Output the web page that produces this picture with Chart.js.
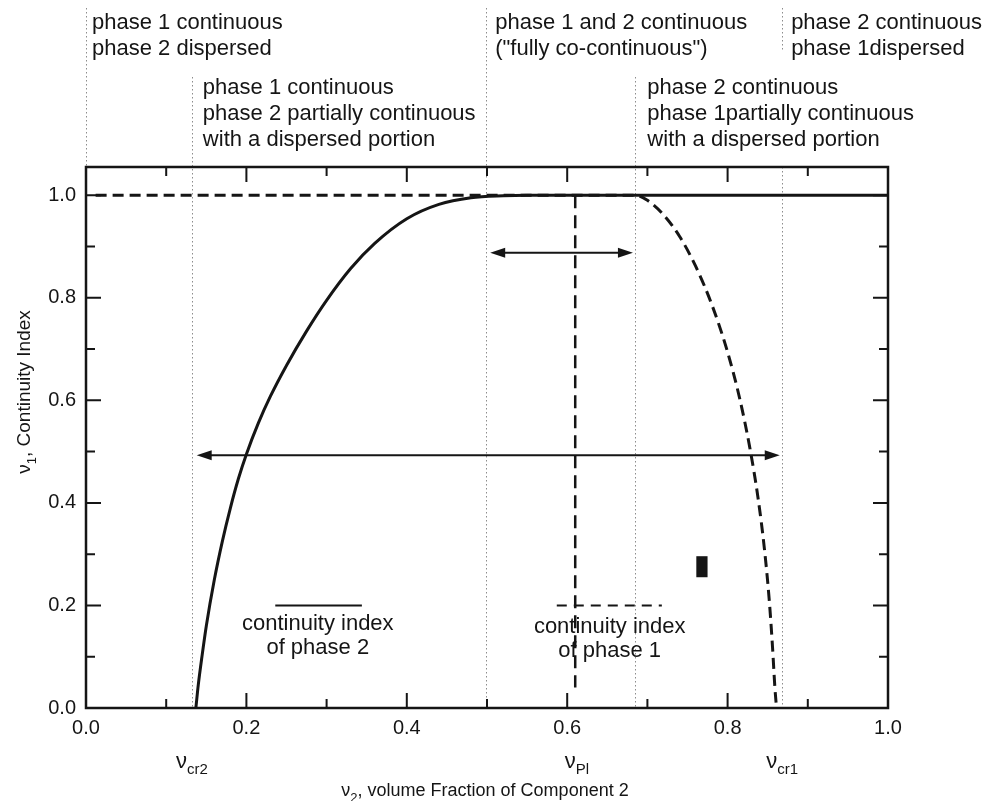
<!DOCTYPE html>
<html>
<head>
<meta charset="utf-8">
<script src="https://cdn.jsdelivr.net/npm/chart.js@4.4.1/dist/chart.umd.min.js"></script>
<style>
  html, body { margin: 0; padding: 0; background: #fff; }
</style>
</head>
<body>
<canvas id="continuity-chart" width="985" height="801"></canvas>
<script>
// axis limits
const xMin = 0, xMax = 1.0, xStep = 0.1;
const yMin = 0, yMax = 1.055, yStep = 0.1;

// continuity index of phase 2 (solid)
const phase2X = [0.137, 0.140, 0.145, 0.150, 0.160, 0.170, 0.180, 0.190, 0.200, 0.215, 0.230, 0.250, 0.275, 0.300, 0.330, 0.360, 0.400, 0.440, 0.480, 0.520, 0.550, 1.000];
const phase2Y = [0.000, 0.045, 0.105, 0.160, 0.250, 0.325, 0.390, 0.447, 0.495, 0.556, 0.608, 0.668, 0.735, 0.795, 0.857, 0.906, 0.954, 0.982, 0.995, 0.999, 1.000, 1.000];

// continuity index of phase 1 (dashed)
const phase1X = [0.012, 0.685, 0.700, 0.720, 0.740, 0.760, 0.780, 0.800, 0.815, 0.828, 0.838, 0.846, 0.852, 0.856, 0.859, 0.861];
const phase1Y = [1.000, 1.000, 0.990, 0.962, 0.920, 0.862, 0.788, 0.694, 0.604, 0.505, 0.409, 0.309, 0.209, 0.119, 0.039, 0.000];

// phase inversion composition (dashed vertical)
const plX = [0.610, 0.610];
const plY = [1.000, 0.040];

// region boundaries (dotted verticals)
const boundX = [0.0, 0.132, 0.499, 0.685, 0.868];

// double arrows
const arrowY = [0.888, 0.493];
const arrowFrom = [0.504, 0.138];
const arrowTo = [0.682, 0.865];

// legend samples
const legendY = 0.2;
const legendSolidX = [0.236, 0.344];
const legendDashX = [0.587, 0.718];

// small black marker
const markX = [0.761, 0.775];
const markY = [0.255, 0.296];

// region descriptions (anchored to a boundary index)
const regionText = [
  { at: 0, dx: 6, top: 23, lines: ['phase 1 continuous', 'phase 2 dispersed'] },
  { at: 1, dx: 11, top: 88, lines: ['phase 1 continuous', 'phase 2 partially continuous', 'with a dispersed portion'] },
  { at: 2, dx: 9, top: 23, lines: ['phase 1 and 2 continuous', '("fully co-continuous")'] },
  { at: 3, dx: 12, top: 88, lines: ['phase 2 continuous', 'phase 1partially continuous', 'with a dispersed portion'] },
  { at: 4, dx: 9, top: 23, lines: ['phase 2 continuous', 'phase 1dispersed'] }
];

const legendText = [
  { x: 0.289, dy: 18, lines: ['continuity index', 'of phase 2'] },
  { x: 0.653, dy: 21, lines: ['continuity index', 'of phase 1'] }
];

const criticalLabels = [
  { x: 0.132, sub: 'cr2' },
  { x: 0.612, sub: 'Pl' },
  { x: 0.868, sub: 'cr1' }
];

const FONT = '"Liberation Sans", Arial, Helvetica, sans-serif';
const INK = '#151515';

function pts(xs, ys) {
  return xs.map((x, i) => ({ x: x, y: ys[i] }));
}

// draws text pieces, some of them as subscripts
function drawParts(ctx, parts, x, y, align, size, subSize) {
  let w = 0;
  parts.forEach(p => {
    ctx.font = (p.sub ? subSize : size) + 'px ' + FONT;
    w += ctx.measureText(p.t).width;
  });
  let cx = align === 'center' ? x - w / 2 : x;
  ctx.textAlign = 'left';
  ctx.textBaseline = 'alphabetic';
  parts.forEach(p => {
    ctx.font = (p.sub ? subSize : size) + 'px ' + FONT;
    ctx.fillText(p.t, cx, p.sub ? y + 6 : y);
    cx += ctx.measureText(p.t).width;
  });
}

function arrowHead(ctx, fromX, toX, py) {
  const dir = toX > fromX ? 1 : -1;
  ctx.beginPath();
  ctx.moveTo(toX, py);
  ctx.lineTo(toX - dir * 15, py - 5);
  ctx.lineTo(toX - dir * 15, py + 5);
  ctx.closePath();
  ctx.fill();
}

const annotate = {
  id: 'annotate',
  beforeDatasetsDraw(chart) {
    const { ctx, chartArea: a, scales: { x } } = chart;
    ctx.save();
    ctx.strokeStyle = '#8c8c8c';
    ctx.lineWidth = 1;
    ctx.setLineDash([1.5, 2.5]);
    // vertical spans of each boundary line
    const spans = [
      [[8, a.top]],
      [[77, a.bottom]],
      [[8, a.bottom]],
      [[77, a.bottom]],
      [[8, 50], [a.top, a.bottom]]
    ];
    boundX.forEach((v, i) => {
      const px = Math.round(x.getPixelForValue(v)) + 0.5;
      spans[i].forEach(s => {
        ctx.beginPath();
        ctx.moveTo(px, s[0]);
        ctx.lineTo(px, s[1]);
        ctx.stroke();
      });
    });
    ctx.restore();
  },
  afterDatasetsDraw(chart) {
    const { ctx, chartArea: a, scales: { x, y } } = chart;
    ctx.save();
    ctx.fillStyle = INK;
    ctx.strokeStyle = INK;

    // frame with inward ticks on all sides
    ctx.lineWidth = 2.5;
    ctx.strokeRect(a.left, a.top, a.right - a.left, a.bottom - a.top);
    ctx.lineWidth = 2;
    x.ticks.forEach(t => {
      const len = Math.round(t.value * 10) % 2 === 0 ? 15 : 9;
      const px = x.getPixelForValue(t.value);
      ctx.beginPath();
      ctx.moveTo(px, a.bottom); ctx.lineTo(px, a.bottom - len);
      ctx.moveTo(px, a.top); ctx.lineTo(px, a.top + len);
      ctx.stroke();
    });
    y.ticks.forEach(t => {
      const len = Math.round(t.value * 10) % 2 === 0 ? 15 : 9;
      const py = y.getPixelForValue(t.value);
      ctx.beginPath();
      ctx.moveTo(a.left, py); ctx.lineTo(a.left + len, py);
      ctx.moveTo(a.right, py); ctx.lineTo(a.right - len, py);
      ctx.stroke();
    });

    // double arrows
    ctx.lineWidth = 2;
    arrowY.forEach((v, i) => {
      const py = y.getPixelForValue(v);
      const x1 = x.getPixelForValue(arrowFrom[i]);
      const x2 = x.getPixelForValue(arrowTo[i]);
      ctx.beginPath();
      ctx.moveTo(x1 + 12, py);
      ctx.lineTo(x2 - 12, py);
      ctx.stroke();
      arrowHead(ctx, x2, x1, py);
      arrowHead(ctx, x1, x2, py);
    });

    // marker
    const mx = x.getPixelForValue(markX[0]);
    const my = y.getPixelForValue(markY[1]);
    ctx.fillRect(mx, my, x.getPixelForValue(markX[1]) - mx, y.getPixelForValue(markY[0]) - my);

    // legend captions
    ctx.font = '22px ' + FONT;
    ctx.textAlign = 'center';
    ctx.textBaseline = 'middle';
    legendText.forEach(lt => {
      const px = x.getPixelForValue(lt.x);
      const py = y.getPixelForValue(legendY);
      lt.lines.forEach((s, j) => ctx.fillText(s, px, py + lt.dy + j * 24));
    });

    // region descriptions above the plot
    ctx.textAlign = 'left';
    regionText.forEach(r => {
      const px = x.getPixelForValue(boundX[r.at]) + r.dx;
      r.lines.forEach((s, j) => ctx.fillText(s, px, r.top + j * 26));
    });

    // critical composition labels
    criticalLabels.forEach(c => {
      drawParts(ctx, [{ t: 'ν' }, { t: c.sub, sub: true }], x.getPixelForValue(c.x), 768, 'center', 22, 15);
    });

    // axis titles
    drawParts(ctx, [{ t: 'ν' }, { t: '2', sub: true }, { t: ', volume Fraction of Component 2' }], (a.left + a.right) / 2 - 2, 796, 'center', 18, 13);
    ctx.translate(30, 392);
    ctx.rotate(-Math.PI / 2);
    drawParts(ctx, [{ t: 'ν' }, { t: '1', sub: true }, { t: ', Continuity Index' }], 0, 0, 'center', 19, 13);
    ctx.restore();
  }
};

Chart.defaults.font.family = FONT;
Chart.defaults.color = INK;

const ctx = document.getElementById('continuity-chart').getContext('2d');
const chart = new Chart(ctx, {
  type: 'scatter',
  data: {
    datasets: [
      {
        label: 'continuity index of phase 2',
        data: pts(phase2X, phase2Y),
        showLine: true,
        borderColor: INK,
        borderWidth: 3,
        pointRadius: 0,
        cubicInterpolationMode: 'monotone'
      },
      {
        label: 'legend phase 2',
        data: pts(legendSolidX, [legendY, legendY]),
        showLine: true,
        borderColor: INK,
        borderWidth: 2,
        pointRadius: 0
      },
      {
        label: 'continuity index of phase 1',
        data: pts(phase1X, phase1Y),
        showLine: true,
        borderColor: INK,
        borderWidth: 3,
        borderDash: [11, 6],
        pointRadius: 0,
        cubicInterpolationMode: 'monotone'
      },
      {
        label: 'legend phase 1',
        data: pts(legendDashX, [legendY, legendY]),
        showLine: true,
        borderColor: INK,
        borderWidth: 2,
        borderDash: [10, 7],
        pointRadius: 0
      },
      {
        label: 'phase inversion',
        data: pts(plX, plY),
        showLine: true,
        borderColor: INK,
        borderWidth: 2.5,
        borderDash: [13, 7],
        pointRadius: 0
      }
    ]
  },
  options: {
    responsive: false,
    animation: false,
    layout: { padding: { left: 0, top: 167, right: 97, bottom: 0 } },
    plugins: {
      legend: { display: false },
      tooltip: { enabled: false }
    },
    scales: {
      x: {
        type: 'linear',
        min: xMin,
        max: xMax,
        grid: { display: false, drawTicks: false },
        border: { display: false },
        ticks: {
          stepSize: xStep,
          autoSkip: false,
          maxRotation: 0,
          includeBounds: false,
          padding: 8,
          font: { size: 20 },
          callback: v => Math.round(v * 10) % 2 === 0 ? v.toFixed(1) : ''
        },
        afterFit: s => { s.height = 93; }
      },
      y: {
        type: 'linear',
        min: yMin,
        max: yMax,
        grid: { display: false, drawTicks: false },
        border: { display: false },
        ticks: {
          stepSize: yStep,
          autoSkip: false,
          includeBounds: false,
          padding: 10,
          font: { size: 20 },
          callback: v => Math.round(v * 10) % 2 === 0 ? v.toFixed(1) : ''
        },
        afterFit: s => { s.width = 86; }
      }
    }
  },
  plugins: [annotate]
});
</script>
</body>
</html>
